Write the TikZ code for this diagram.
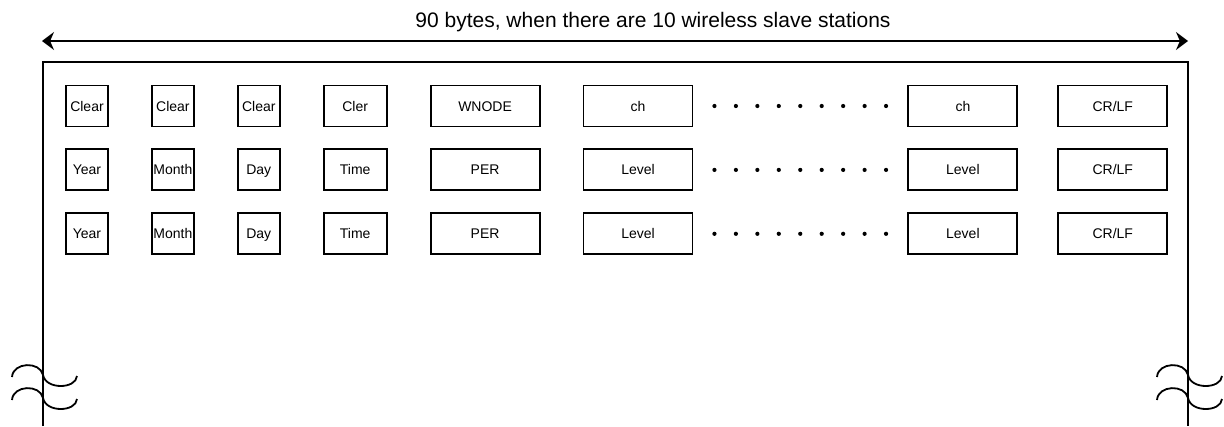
\documentclass[tikz,border=0pt]{standalone}
\usepackage{fontspec}
\setmainfont{Liberation Sans}
\usepackage{tikz}
\usetikzlibrary{positioning,arrows.meta}

\begin{document}
\begin{tikzpicture}[
  x=1pt, y=-1pt,
  node distance=42pt,
  fbox/.style={draw, line width=1.9pt, inner sep=0pt, minimum height=41pt,
               text height=10pt, text depth=0pt, font=\fontsize{14}{16}\selectfont},
  sbox/.style={fbox, minimum width=42pt},
  mbox/.style={fbox, minimum width=63pt},
  wbox/.style={fbox, minimum width=109pt},
  dots/.style={line width=4.2pt, line cap=round, dash pattern=on 0pt off 21.45pt,
               shorten <=21pt, shorten >=21pt},
  arr/.style={{Stealth[length=12pt,width=18pt]}-{Stealth[length=12pt,width=18pt]}, line width=1.5pt}]
\useasboundingbox (0,0) rectangle (1224,426);
% width arrow and title
\coordinate (wl) at (42,41);
\coordinate (wr) at (1188,41);
\draw[arr] (wl) -- (wr);
\node[anchor=base, font=\fontsize{21}{24}\selectfont] (title) at (653,27) {90 bytes, when there are 10 wireless slave stations};
% frame
\draw[line width=2pt] (43,426) |- (1188,62) -- (1188,426);
\foreach \sx in {43,1188}
  \foreach \sy in {365,388}
    \draw[line width=1.8pt, shift={(\sx,\sy)}] (-31,12) .. controls (-30,-3) and (-3,-4) .. (0,10)
      .. controls (3,25) and (33,24) .. (34,11);
% row 1
\node[sbox] (a1) at (87,106) {Clear};
\node[sbox, right=of a1] (a2) {Clear};
\node[sbox, right=of a2] (a3) {Clear};
\node[mbox, right=of a3] (a4) {Cler};
\node[wbox, right=of a4] (a5) {WNODE};
\node[wbox, right=of a5] (a6) {ch};
\node[wbox, right=214pt of a6] (a7) {ch};
\node[wbox, right=39pt of a7] (a8) {CR/LF};
% row 2
\node[sbox, below=21pt of a1] (b1) {Year};
\node[sbox, right=of b1] (b2) {Month};
\node[sbox, right=of b2] (b3) {Day};
\node[mbox, right=of b3] (b4) {Time};
\node[wbox, right=of b4] (b5) {PER};
\node[wbox, right=of b5] (b6) {Level};
\node[wbox, right=214pt of b6] (b7) {Level};
\node[wbox, right=39pt of b7] (b8) {CR/LF};
% row 3
\node[sbox, below=21pt of b1] (c1) {Year};
\node[sbox, right=of c1] (c2) {Month};
\node[sbox, right=of c2] (c3) {Day};
\node[mbox, right=of c3] (c4) {Time};
\node[wbox, right=of c4] (c5) {PER};
\node[wbox, right=of c5] (c6) {Level};
\node[wbox, right=214pt of c6] (c7) {Level};
\node[wbox, right=39pt of c7] (c8) {CR/LF};
% dotted gaps
\draw[dots] (a6) -- (a7);
\draw[dots] (b6) -- (b7);
\draw[dots] (c6) -- (c7);
\end{tikzpicture}
\end{document}
